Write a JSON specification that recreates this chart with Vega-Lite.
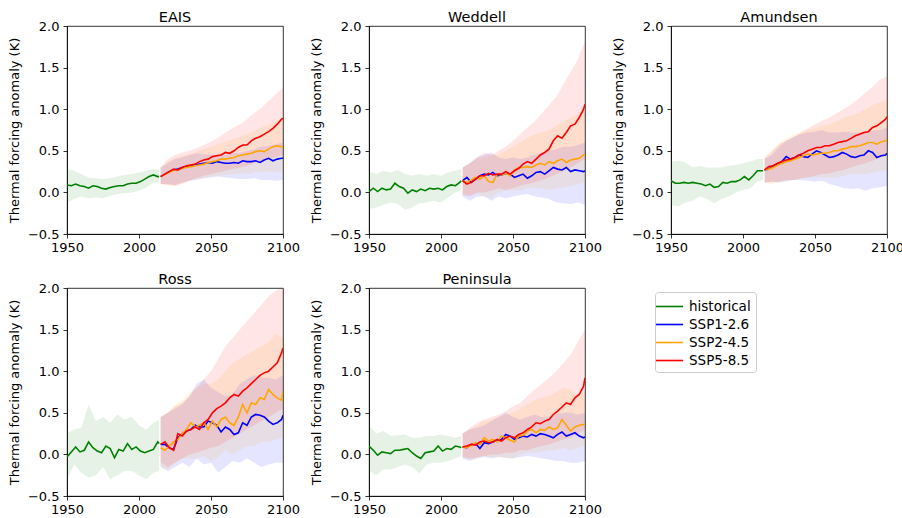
{
"$schema":"https://vega.github.io/schema/vega-lite/v6.json",
"padding":{"left":8,"top":9,"right":0,"bottom":0},
"config":{
 "font":"DejaVu Sans",
 "view":{"stroke":"black","strokeWidth":0.8},
 "axis":{"grid":false,"domainColor":"black","tickColor":"black","labelColor":"black","labelFontSize":13,"tickSize":4,"titleFontSize":13,"titleFontWeight":"normal","titleColor":"black","domainWidth":0.8,"tickWidth":0.8,"labelFlush":false,"labelOverlap":false,"labelFont":"DejaVu Sans","titleFont":"DejaVu Sans","titlePadding":6},
 "title":{"fontSize":14.5,"fontWeight":"normal","font":"DejaVu Sans","color":"black","offset":-5,"baseline":"alphabetic"},
 "legend":{"labelFontSize":13.5,"labelFont":"DejaVu Sans","labelColor":"black","symbolStrokeWidth":1.6,"strokeColor":"#cccccc","fillColor":"white","cornerRadius":3,"padding":5,"labelOffset":10,"rowPadding":2,"symbolType":"M-1.6,0H1.6","symbolSize":289}
},
"datasets":{
"EAIS_l":[
{"s":"historical","y":1950,"v":0.09},{"s":"historical","y":1953,"v":0.08},{"s":"historical","y":1956,"v":0.10},{"s":"historical","y":1959,"v":0.08},{"s":"historical","y":1962,"v":0.07},{"s":"historical","y":1965,"v":0.05},{"s":"historical","y":1968,"v":0.08},{"s":"historical","y":1971,"v":0.07},{"s":"historical","y":1974,"v":0.05},{"s":"historical","y":1977,"v":0.04},{"s":"historical","y":1980,"v":0.06},{"s":"historical","y":1983,"v":0.07},{"s":"historical","y":1986,"v":0.08},{"s":"historical","y":1989,"v":0.08},{"s":"historical","y":1992,"v":0.10},{"s":"historical","y":1995,"v":0.11},{"s":"historical","y":1998,"v":0.11},{"s":"historical","y":2001,"v":0.13},{"s":"historical","y":2004,"v":0.16},{"s":"historical","y":2007,"v":0.19},{"s":"historical","y":2010,"v":0.21},{"s":"historical","y":2013,"v":0.19},{"s":"historical","y":2014,"v":0.19},
{"s":"SSP1-2.6","y":2015,"v":0.19},{"s":"SSP1-2.6","y":2018,"v":0.22},{"s":"SSP1-2.6","y":2021,"v":0.25},{"s":"SSP1-2.6","y":2024,"v":0.27},{"s":"SSP1-2.6","y":2027,"v":0.28},{"s":"SSP1-2.6","y":2030,"v":0.30},{"s":"SSP1-2.6","y":2033,"v":0.31},{"s":"SSP1-2.6","y":2036,"v":0.32},{"s":"SSP1-2.6","y":2039,"v":0.33},{"s":"SSP1-2.6","y":2042,"v":0.34},{"s":"SSP1-2.6","y":2045,"v":0.35},{"s":"SSP1-2.6","y":2048,"v":0.36},{"s":"SSP1-2.6","y":2051,"v":0.35},{"s":"SSP1-2.6","y":2054,"v":0.37},{"s":"SSP1-2.6","y":2057,"v":0.36},{"s":"SSP1-2.6","y":2060,"v":0.35},{"s":"SSP1-2.6","y":2063,"v":0.35},{"s":"SSP1-2.6","y":2066,"v":0.36},{"s":"SSP1-2.6","y":2069,"v":0.35},{"s":"SSP1-2.6","y":2072,"v":0.38},{"s":"SSP1-2.6","y":2075,"v":0.37},{"s":"SSP1-2.6","y":2078,"v":0.37},{"s":"SSP1-2.6","y":2081,"v":0.38},{"s":"SSP1-2.6","y":2084,"v":0.36},{"s":"SSP1-2.6","y":2087,"v":0.39},{"s":"SSP1-2.6","y":2090,"v":0.41},{"s":"SSP1-2.6","y":2093,"v":0.38},{"s":"SSP1-2.6","y":2096,"v":0.40},{"s":"SSP1-2.6","y":2099,"v":0.41},{"s":"SSP1-2.6","y":2100,"v":0.41},
{"s":"SSP2-4.5","y":2015,"v":0.19},{"s":"SSP2-4.5","y":2018,"v":0.22},{"s":"SSP2-4.5","y":2021,"v":0.24},{"s":"SSP2-4.5","y":2024,"v":0.27},{"s":"SSP2-4.5","y":2027,"v":0.27},{"s":"SSP2-4.5","y":2030,"v":0.29},{"s":"SSP2-4.5","y":2033,"v":0.30},{"s":"SSP2-4.5","y":2036,"v":0.31},{"s":"SSP2-4.5","y":2039,"v":0.32},{"s":"SSP2-4.5","y":2042,"v":0.33},{"s":"SSP2-4.5","y":2045,"v":0.34},{"s":"SSP2-4.5","y":2048,"v":0.36},{"s":"SSP2-4.5","y":2051,"v":0.37},{"s":"SSP2-4.5","y":2054,"v":0.38},{"s":"SSP2-4.5","y":2057,"v":0.40},{"s":"SSP2-4.5","y":2060,"v":0.40},{"s":"SSP2-4.5","y":2063,"v":0.41},{"s":"SSP2-4.5","y":2066,"v":0.42},{"s":"SSP2-4.5","y":2069,"v":0.44},{"s":"SSP2-4.5","y":2072,"v":0.45},{"s":"SSP2-4.5","y":2075,"v":0.46},{"s":"SSP2-4.5","y":2078,"v":0.47},{"s":"SSP2-4.5","y":2081,"v":0.49},{"s":"SSP2-4.5","y":2084,"v":0.50},{"s":"SSP2-4.5","y":2087,"v":0.49},{"s":"SSP2-4.5","y":2090,"v":0.52},{"s":"SSP2-4.5","y":2093,"v":0.55},{"s":"SSP2-4.5","y":2096,"v":0.56},{"s":"SSP2-4.5","y":2099,"v":0.55},{"s":"SSP2-4.5","y":2100,"v":0.54},
{"s":"SSP5-8.5","y":2015,"v":0.19},{"s":"SSP5-8.5","y":2018,"v":0.22},{"s":"SSP5-8.5","y":2021,"v":0.25},{"s":"SSP5-8.5","y":2024,"v":0.28},{"s":"SSP5-8.5","y":2027,"v":0.27},{"s":"SSP5-8.5","y":2030,"v":0.30},{"s":"SSP5-8.5","y":2033,"v":0.32},{"s":"SSP5-8.5","y":2036,"v":0.33},{"s":"SSP5-8.5","y":2039,"v":0.34},{"s":"SSP5-8.5","y":2042,"v":0.37},{"s":"SSP5-8.5","y":2045,"v":0.39},{"s":"SSP5-8.5","y":2048,"v":0.40},{"s":"SSP5-8.5","y":2051,"v":0.43},{"s":"SSP5-8.5","y":2054,"v":0.44},{"s":"SSP5-8.5","y":2057,"v":0.45},{"s":"SSP5-8.5","y":2060,"v":0.48},{"s":"SSP5-8.5","y":2063,"v":0.47},{"s":"SSP5-8.5","y":2066,"v":0.50},{"s":"SSP5-8.5","y":2069,"v":0.54},{"s":"SSP5-8.5","y":2072,"v":0.57},{"s":"SSP5-8.5","y":2075,"v":0.57},{"s":"SSP5-8.5","y":2078,"v":0.62},{"s":"SSP5-8.5","y":2081,"v":0.65},{"s":"SSP5-8.5","y":2084,"v":0.67},{"s":"SSP5-8.5","y":2087,"v":0.70},{"s":"SSP5-8.5","y":2090,"v":0.73},{"s":"SSP5-8.5","y":2093,"v":0.77},{"s":"SSP5-8.5","y":2096,"v":0.82},{"s":"SSP5-8.5","y":2099,"v":0.88},{"s":"SSP5-8.5","y":2100,"v":0.89}
],
"EAIS_b":[
{"s":"historical","y":1950,"l":-0.12,"u":0.28},{"s":"historical","y":1955,"l":-0.08,"u":0.26},{"s":"historical","y":1960,"l":-0.05,"u":0.22},{"s":"historical","y":1965,"l":-0.07,"u":0.18},{"s":"historical","y":1970,"l":-0.06,"u":0.17},{"s":"historical","y":1975,"l":-0.07,"u":0.16},{"s":"historical","y":1980,"l":-0.04,"u":0.17},{"s":"historical","y":1985,"l":-0.02,"u":0.19},{"s":"historical","y":1990,"l":-0.01,"u":0.21},{"s":"historical","y":1995,"l":0.0,"u":0.22},{"s":"historical","y":2000,"l":0.02,"u":0.24},{"s":"historical","y":2005,"l":0.06,"u":0.26},{"s":"historical","y":2010,"l":0.12,"u":0.28},{"s":"historical","y":2014,"l":0.12,"u":0.27},
{"s":"SSP1-2.6","y":2015,"l":0.10,"u":0.30},{"s":"SSP1-2.6","y":2020,"l":0.10,"u":0.35},{"s":"SSP1-2.6","y":2025,"l":0.09,"u":0.40},{"s":"SSP1-2.6","y":2030,"l":0.12,"u":0.42},{"s":"SSP1-2.6","y":2035,"l":0.14,"u":0.45},{"s":"SSP1-2.6","y":2040,"l":0.15,"u":0.47},{"s":"SSP1-2.6","y":2045,"l":0.17,"u":0.46},{"s":"SSP1-2.6","y":2050,"l":0.18,"u":0.45},{"s":"SSP1-2.6","y":2055,"l":0.19,"u":0.46},{"s":"SSP1-2.6","y":2060,"l":0.18,"u":0.45},{"s":"SSP1-2.6","y":2065,"l":0.17,"u":0.47},{"s":"SSP1-2.6","y":2070,"l":0.16,"u":0.48},{"s":"SSP1-2.6","y":2075,"l":0.16,"u":0.50},{"s":"SSP1-2.6","y":2080,"l":0.17,"u":0.52},{"s":"SSP1-2.6","y":2085,"l":0.15,"u":0.55},{"s":"SSP1-2.6","y":2090,"l":0.15,"u":0.56},{"s":"SSP1-2.6","y":2095,"l":0.14,"u":0.58},{"s":"SSP1-2.6","y":2100,"l":0.15,"u":0.60},
{"s":"SSP2-4.5","y":2015,"l":0.10,"u":0.30},{"s":"SSP2-4.5","y":2020,"l":0.09,"u":0.37},{"s":"SSP2-4.5","y":2025,"l":0.08,"u":0.41},{"s":"SSP2-4.5","y":2030,"l":0.11,"u":0.44},{"s":"SSP2-4.5","y":2035,"l":0.14,"u":0.46},{"s":"SSP2-4.5","y":2040,"l":0.16,"u":0.49},{"s":"SSP2-4.5","y":2045,"l":0.17,"u":0.52},{"s":"SSP2-4.5","y":2050,"l":0.19,"u":0.55},{"s":"SSP2-4.5","y":2055,"l":0.20,"u":0.58},{"s":"SSP2-4.5","y":2060,"l":0.21,"u":0.61},{"s":"SSP2-4.5","y":2065,"l":0.22,"u":0.64},{"s":"SSP2-4.5","y":2070,"l":0.23,"u":0.67},{"s":"SSP2-4.5","y":2075,"l":0.22,"u":0.70},{"s":"SSP2-4.5","y":2080,"l":0.24,"u":0.74},{"s":"SSP2-4.5","y":2085,"l":0.25,"u":0.78},{"s":"SSP2-4.5","y":2090,"l":0.25,"u":0.82},{"s":"SSP2-4.5","y":2095,"l":0.24,"u":0.86},{"s":"SSP2-4.5","y":2100,"l":0.25,"u":0.90},
{"s":"SSP5-8.5","y":2015,"l":0.10,"u":0.30},{"s":"SSP5-8.5","y":2020,"l":0.09,"u":0.40},{"s":"SSP5-8.5","y":2025,"l":0.08,"u":0.45},{"s":"SSP5-8.5","y":2030,"l":0.10,"u":0.48},{"s":"SSP5-8.5","y":2035,"l":0.14,"u":0.50},{"s":"SSP5-8.5","y":2040,"l":0.17,"u":0.53},{"s":"SSP5-8.5","y":2045,"l":0.20,"u":0.57},{"s":"SSP5-8.5","y":2050,"l":0.22,"u":0.61},{"s":"SSP5-8.5","y":2055,"l":0.24,"u":0.66},{"s":"SSP5-8.5","y":2060,"l":0.26,"u":0.72},{"s":"SSP5-8.5","y":2065,"l":0.28,"u":0.77},{"s":"SSP5-8.5","y":2070,"l":0.30,"u":0.82},{"s":"SSP5-8.5","y":2075,"l":0.32,"u":0.88},{"s":"SSP5-8.5","y":2080,"l":0.35,"u":0.95},{"s":"SSP5-8.5","y":2085,"l":0.37,"u":1.02},{"s":"SSP5-8.5","y":2090,"l":0.40,"u":1.10},{"s":"SSP5-8.5","y":2095,"l":0.42,"u":1.18},{"s":"SSP5-8.5","y":2100,"l":0.45,"u":1.26}
],
"Weddell_l":[
{"s":"historical","y":1950,"v":0.01},{"s":"historical","y":1953,"v":0.05},{"s":"historical","y":1956,"v":0.01},{"s":"historical","y":1959,"v":0.05},{"s":"historical","y":1962,"v":0.03},{"s":"historical","y":1965,"v":0.04},{"s":"historical","y":1968,"v":0.11},{"s":"historical","y":1971,"v":0.07},{"s":"historical","y":1974,"v":0.05},{"s":"historical","y":1977,"v":-0.01},{"s":"historical","y":1980,"v":0.03},{"s":"historical","y":1983,"v":0.01},{"s":"historical","y":1986,"v":0.04},{"s":"historical","y":1989,"v":0.02},{"s":"historical","y":1992,"v":0.05},{"s":"historical","y":1995,"v":0.04},{"s":"historical","y":1998,"v":0.05},{"s":"historical","y":2001,"v":0.03},{"s":"historical","y":2004,"v":0.07},{"s":"historical","y":2007,"v":0.09},{"s":"historical","y":2010,"v":0.08},{"s":"historical","y":2013,"v":0.12},{"s":"historical","y":2014,"v":0.14},
{"s":"SSP1-2.6","y":2015,"v":0.14},{"s":"SSP1-2.6","y":2018,"v":0.18},{"s":"SSP1-2.6","y":2021,"v":0.12},{"s":"SSP1-2.6","y":2024,"v":0.16},{"s":"SSP1-2.6","y":2027,"v":0.20},{"s":"SSP1-2.6","y":2030,"v":0.22},{"s":"SSP1-2.6","y":2033,"v":0.21},{"s":"SSP1-2.6","y":2036,"v":0.24},{"s":"SSP1-2.6","y":2039,"v":0.20},{"s":"SSP1-2.6","y":2042,"v":0.21},{"s":"SSP1-2.6","y":2045,"v":0.23},{"s":"SSP1-2.6","y":2048,"v":0.22},{"s":"SSP1-2.6","y":2051,"v":0.18},{"s":"SSP1-2.6","y":2054,"v":0.20},{"s":"SSP1-2.6","y":2057,"v":0.22},{"s":"SSP1-2.6","y":2060,"v":0.17},{"s":"SSP1-2.6","y":2063,"v":0.20},{"s":"SSP1-2.6","y":2066,"v":0.24},{"s":"SSP1-2.6","y":2069,"v":0.25},{"s":"SSP1-2.6","y":2072,"v":0.22},{"s":"SSP1-2.6","y":2075,"v":0.26},{"s":"SSP1-2.6","y":2078,"v":0.30},{"s":"SSP1-2.6","y":2081,"v":0.28},{"s":"SSP1-2.6","y":2084,"v":0.27},{"s":"SSP1-2.6","y":2087,"v":0.30},{"s":"SSP1-2.6","y":2090,"v":0.25},{"s":"SSP1-2.6","y":2093,"v":0.27},{"s":"SSP1-2.6","y":2096,"v":0.26},{"s":"SSP1-2.6","y":2099,"v":0.25},{"s":"SSP1-2.6","y":2100,"v":0.26},
{"s":"SSP2-4.5","y":2015,"v":0.14},{"s":"SSP2-4.5","y":2018,"v":0.12},{"s":"SSP2-4.5","y":2021,"v":0.15},{"s":"SSP2-4.5","y":2024,"v":0.18},{"s":"SSP2-4.5","y":2027,"v":0.16},{"s":"SSP2-4.5","y":2030,"v":0.20},{"s":"SSP2-4.5","y":2033,"v":0.13},{"s":"SSP2-4.5","y":2036,"v":0.12},{"s":"SSP2-4.5","y":2039,"v":0.22},{"s":"SSP2-4.5","y":2042,"v":0.21},{"s":"SSP2-4.5","y":2045,"v":0.23},{"s":"SSP2-4.5","y":2048,"v":0.20},{"s":"SSP2-4.5","y":2051,"v":0.27},{"s":"SSP2-4.5","y":2054,"v":0.30},{"s":"SSP2-4.5","y":2057,"v":0.30},{"s":"SSP2-4.5","y":2060,"v":0.31},{"s":"SSP2-4.5","y":2063,"v":0.30},{"s":"SSP2-4.5","y":2066,"v":0.33},{"s":"SSP2-4.5","y":2069,"v":0.35},{"s":"SSP2-4.5","y":2072,"v":0.33},{"s":"SSP2-4.5","y":2075,"v":0.37},{"s":"SSP2-4.5","y":2078,"v":0.35},{"s":"SSP2-4.5","y":2081,"v":0.38},{"s":"SSP2-4.5","y":2084,"v":0.40},{"s":"SSP2-4.5","y":2087,"v":0.36},{"s":"SSP2-4.5","y":2090,"v":0.39},{"s":"SSP2-4.5","y":2093,"v":0.40},{"s":"SSP2-4.5","y":2096,"v":0.41},{"s":"SSP2-4.5","y":2099,"v":0.45},{"s":"SSP2-4.5","y":2100,"v":0.46},
{"s":"SSP5-8.5","y":2015,"v":0.14},{"s":"SSP5-8.5","y":2018,"v":0.10},{"s":"SSP5-8.5","y":2021,"v":0.12},{"s":"SSP5-8.5","y":2024,"v":0.16},{"s":"SSP5-8.5","y":2027,"v":0.20},{"s":"SSP5-8.5","y":2030,"v":0.20},{"s":"SSP5-8.5","y":2033,"v":0.23},{"s":"SSP5-8.5","y":2036,"v":0.21},{"s":"SSP5-8.5","y":2039,"v":0.22},{"s":"SSP5-8.5","y":2042,"v":0.22},{"s":"SSP5-8.5","y":2045,"v":0.25},{"s":"SSP5-8.5","y":2048,"v":0.22},{"s":"SSP5-8.5","y":2051,"v":0.26},{"s":"SSP5-8.5","y":2054,"v":0.29},{"s":"SSP5-8.5","y":2057,"v":0.34},{"s":"SSP5-8.5","y":2060,"v":0.37},{"s":"SSP5-8.5","y":2063,"v":0.35},{"s":"SSP5-8.5","y":2066,"v":0.40},{"s":"SSP5-8.5","y":2069,"v":0.45},{"s":"SSP5-8.5","y":2072,"v":0.48},{"s":"SSP5-8.5","y":2075,"v":0.52},{"s":"SSP5-8.5","y":2078,"v":0.62},{"s":"SSP5-8.5","y":2081,"v":0.68},{"s":"SSP5-8.5","y":2084,"v":0.65},{"s":"SSP5-8.5","y":2087,"v":0.72},{"s":"SSP5-8.5","y":2090,"v":0.80},{"s":"SSP5-8.5","y":2093,"v":0.82},{"s":"SSP5-8.5","y":2096,"v":0.90},{"s":"SSP5-8.5","y":2099,"v":1.00},{"s":"SSP5-8.5","y":2100,"v":1.06}
],
"Weddell_b":[
{"s":"historical","y":1950,"l":-0.20,"u":0.25},{"s":"historical","y":1955,"l":-0.18,"u":0.22},{"s":"historical","y":1960,"l":-0.15,"u":0.26},{"s":"historical","y":1965,"l":-0.12,"u":0.24},{"s":"historical","y":1970,"l":-0.14,"u":0.27},{"s":"historical","y":1975,"l":-0.21,"u":0.22},{"s":"historical","y":1980,"l":-0.18,"u":0.20},{"s":"historical","y":1985,"l":-0.13,"u":0.22},{"s":"historical","y":1990,"l":-0.12,"u":0.20},{"s":"historical","y":1995,"l":-0.10,"u":0.22},{"s":"historical","y":2000,"l":-0.12,"u":0.20},{"s":"historical","y":2005,"l":-0.06,"u":0.24},{"s":"historical","y":2010,"l":0.0,"u":0.26},{"s":"historical","y":2014,"l":0.02,"u":0.28},
{"s":"SSP1-2.6","y":2015,"l":-0.05,"u":0.30},{"s":"SSP1-2.6","y":2020,"l":-0.10,"u":0.35},{"s":"SSP1-2.6","y":2025,"l":-0.05,"u":0.42},{"s":"SSP1-2.6","y":2030,"l":-0.05,"u":0.45},{"s":"SSP1-2.6","y":2035,"l":-0.10,"u":0.48},{"s":"SSP1-2.6","y":2040,"l":-0.05,"u":0.42},{"s":"SSP1-2.6","y":2045,"l":-0.07,"u":0.40},{"s":"SSP1-2.6","y":2050,"l":-0.05,"u":0.42},{"s":"SSP1-2.6","y":2055,"l":-0.03,"u":0.40},{"s":"SSP1-2.6","y":2060,"l":-0.02,"u":0.42},{"s":"SSP1-2.6","y":2065,"l":-0.05,"u":0.45},{"s":"SSP1-2.6","y":2070,"l":-0.06,"u":0.48},{"s":"SSP1-2.6","y":2075,"l":-0.08,"u":0.50},{"s":"SSP1-2.6","y":2080,"l":-0.12,"u":0.52},{"s":"SSP1-2.6","y":2085,"l":-0.13,"u":0.55},{"s":"SSP1-2.6","y":2090,"l":-0.14,"u":0.55},{"s":"SSP1-2.6","y":2095,"l":-0.12,"u":0.57},{"s":"SSP1-2.6","y":2100,"l":-0.15,"u":0.60},
{"s":"SSP2-4.5","y":2015,"l":-0.02,"u":0.30},{"s":"SSP2-4.5","y":2020,"l":-0.03,"u":0.35},{"s":"SSP2-4.5","y":2025,"l":-0.02,"u":0.40},{"s":"SSP2-4.5","y":2030,"l":-0.05,"u":0.42},{"s":"SSP2-4.5","y":2035,"l":-0.06,"u":0.45},{"s":"SSP2-4.5","y":2040,"l":0.0,"u":0.45},{"s":"SSP2-4.5","y":2045,"l":0.02,"u":0.50},{"s":"SSP2-4.5","y":2050,"l":0.03,"u":0.55},{"s":"SSP2-4.5","y":2055,"l":0.02,"u":0.60},{"s":"SSP2-4.5","y":2060,"l":0.05,"u":0.65},{"s":"SSP2-4.5","y":2065,"l":0.05,"u":0.70},{"s":"SSP2-4.5","y":2070,"l":0.05,"u":0.72},{"s":"SSP2-4.5","y":2075,"l":0.03,"u":0.75},{"s":"SSP2-4.5","y":2080,"l":0.05,"u":0.80},{"s":"SSP2-4.5","y":2085,"l":0.06,"u":0.85},{"s":"SSP2-4.5","y":2090,"l":0.08,"u":0.90},{"s":"SSP2-4.5","y":2095,"l":0.10,"u":0.95},{"s":"SSP2-4.5","y":2100,"l":0.12,"u":1.00},
{"s":"SSP5-8.5","y":2015,"l":-0.03,"u":0.30},{"s":"SSP5-8.5","y":2020,"l":-0.05,"u":0.35},{"s":"SSP5-8.5","y":2025,"l":0.0,"u":0.42},{"s":"SSP5-8.5","y":2030,"l":0.0,"u":0.48},{"s":"SSP5-8.5","y":2035,"l":0.02,"u":0.45},{"s":"SSP5-8.5","y":2040,"l":0.05,"u":0.50},{"s":"SSP5-8.5","y":2045,"l":0.03,"u":0.55},{"s":"SSP5-8.5","y":2050,"l":0.05,"u":0.62},{"s":"SSP5-8.5","y":2055,"l":0.08,"u":0.70},{"s":"SSP5-8.5","y":2060,"l":0.10,"u":0.78},{"s":"SSP5-8.5","y":2065,"l":0.12,"u":0.85},{"s":"SSP5-8.5","y":2070,"l":0.15,"u":0.95},{"s":"SSP5-8.5","y":2075,"l":0.18,"u":1.05},{"s":"SSP5-8.5","y":2080,"l":0.22,"u":1.15},{"s":"SSP5-8.5","y":2085,"l":0.25,"u":1.30},{"s":"SSP5-8.5","y":2090,"l":0.30,"u":1.45},{"s":"SSP5-8.5","y":2095,"l":0.35,"u":1.60},{"s":"SSP5-8.5","y":2100,"l":0.40,"u":1.82}
],
"Amundsen_l":[
{"s":"historical","y":1950,"v":0.14},{"s":"historical","y":1953,"v":0.11},{"s":"historical","y":1956,"v":0.11},{"s":"historical","y":1959,"v":0.12},{"s":"historical","y":1962,"v":0.11},{"s":"historical","y":1965,"v":0.12},{"s":"historical","y":1968,"v":0.11},{"s":"historical","y":1971,"v":0.10},{"s":"historical","y":1974,"v":0.08},{"s":"historical","y":1977,"v":0.10},{"s":"historical","y":1980,"v":0.06},{"s":"historical","y":1983,"v":0.07},{"s":"historical","y":1986,"v":0.12},{"s":"historical","y":1989,"v":0.11},{"s":"historical","y":1992,"v":0.13},{"s":"historical","y":1995,"v":0.13},{"s":"historical","y":1998,"v":0.15},{"s":"historical","y":2001,"v":0.19},{"s":"historical","y":2004,"v":0.15},{"s":"historical","y":2007,"v":0.20},{"s":"historical","y":2010,"v":0.26},{"s":"historical","y":2013,"v":0.26},{"s":"historical","y":2014,"v":0.26},
{"s":"SSP1-2.6","y":2015,"v":0.27},{"s":"SSP1-2.6","y":2018,"v":0.28},{"s":"SSP1-2.6","y":2021,"v":0.32},{"s":"SSP1-2.6","y":2024,"v":0.34},{"s":"SSP1-2.6","y":2027,"v":0.37},{"s":"SSP1-2.6","y":2030,"v":0.43},{"s":"SSP1-2.6","y":2033,"v":0.40},{"s":"SSP1-2.6","y":2036,"v":0.42},{"s":"SSP1-2.6","y":2039,"v":0.45},{"s":"SSP1-2.6","y":2042,"v":0.43},{"s":"SSP1-2.6","y":2045,"v":0.42},{"s":"SSP1-2.6","y":2048,"v":0.46},{"s":"SSP1-2.6","y":2051,"v":0.50},{"s":"SSP1-2.6","y":2054,"v":0.48},{"s":"SSP1-2.6","y":2057,"v":0.45},{"s":"SSP1-2.6","y":2060,"v":0.42},{"s":"SSP1-2.6","y":2063,"v":0.43},{"s":"SSP1-2.6","y":2066,"v":0.45},{"s":"SSP1-2.6","y":2069,"v":0.48},{"s":"SSP1-2.6","y":2072,"v":0.46},{"s":"SSP1-2.6","y":2075,"v":0.43},{"s":"SSP1-2.6","y":2078,"v":0.42},{"s":"SSP1-2.6","y":2081,"v":0.44},{"s":"SSP1-2.6","y":2084,"v":0.45},{"s":"SSP1-2.6","y":2087,"v":0.50},{"s":"SSP1-2.6","y":2090,"v":0.48},{"s":"SSP1-2.6","y":2093,"v":0.42},{"s":"SSP1-2.6","y":2096,"v":0.44},{"s":"SSP1-2.6","y":2099,"v":0.45},{"s":"SSP1-2.6","y":2100,"v":0.47},
{"s":"SSP2-4.5","y":2015,"v":0.27},{"s":"SSP2-4.5","y":2018,"v":0.28},{"s":"SSP2-4.5","y":2021,"v":0.30},{"s":"SSP2-4.5","y":2024,"v":0.33},{"s":"SSP2-4.5","y":2027,"v":0.35},{"s":"SSP2-4.5","y":2030,"v":0.37},{"s":"SSP2-4.5","y":2033,"v":0.38},{"s":"SSP2-4.5","y":2036,"v":0.40},{"s":"SSP2-4.5","y":2039,"v":0.42},{"s":"SSP2-4.5","y":2042,"v":0.44},{"s":"SSP2-4.5","y":2045,"v":0.46},{"s":"SSP2-4.5","y":2048,"v":0.45},{"s":"SSP2-4.5","y":2051,"v":0.46},{"s":"SSP2-4.5","y":2054,"v":0.47},{"s":"SSP2-4.5","y":2057,"v":0.47},{"s":"SSP2-4.5","y":2060,"v":0.48},{"s":"SSP2-4.5","y":2063,"v":0.50},{"s":"SSP2-4.5","y":2066,"v":0.50},{"s":"SSP2-4.5","y":2069,"v":0.52},{"s":"SSP2-4.5","y":2072,"v":0.53},{"s":"SSP2-4.5","y":2075,"v":0.55},{"s":"SSP2-4.5","y":2078,"v":0.55},{"s":"SSP2-4.5","y":2081,"v":0.56},{"s":"SSP2-4.5","y":2084,"v":0.58},{"s":"SSP2-4.5","y":2087,"v":0.60},{"s":"SSP2-4.5","y":2090,"v":0.60},{"s":"SSP2-4.5","y":2093,"v":0.58},{"s":"SSP2-4.5","y":2096,"v":0.61},{"s":"SSP2-4.5","y":2099,"v":0.62},{"s":"SSP2-4.5","y":2100,"v":0.63},
{"s":"SSP5-8.5","y":2015,"v":0.27},{"s":"SSP5-8.5","y":2018,"v":0.31},{"s":"SSP5-8.5","y":2021,"v":0.32},{"s":"SSP5-8.5","y":2024,"v":0.35},{"s":"SSP5-8.5","y":2027,"v":0.37},{"s":"SSP5-8.5","y":2030,"v":0.39},{"s":"SSP5-8.5","y":2033,"v":0.40},{"s":"SSP5-8.5","y":2036,"v":0.42},{"s":"SSP5-8.5","y":2039,"v":0.45},{"s":"SSP5-8.5","y":2042,"v":0.47},{"s":"SSP5-8.5","y":2045,"v":0.50},{"s":"SSP5-8.5","y":2048,"v":0.52},{"s":"SSP5-8.5","y":2051,"v":0.54},{"s":"SSP5-8.5","y":2054,"v":0.54},{"s":"SSP5-8.5","y":2057,"v":0.56},{"s":"SSP5-8.5","y":2060,"v":0.56},{"s":"SSP5-8.5","y":2063,"v":0.58},{"s":"SSP5-8.5","y":2066,"v":0.60},{"s":"SSP5-8.5","y":2069,"v":0.61},{"s":"SSP5-8.5","y":2072,"v":0.62},{"s":"SSP5-8.5","y":2075,"v":0.65},{"s":"SSP5-8.5","y":2078,"v":0.68},{"s":"SSP5-8.5","y":2081,"v":0.70},{"s":"SSP5-8.5","y":2084,"v":0.72},{"s":"SSP5-8.5","y":2087,"v":0.73},{"s":"SSP5-8.5","y":2090,"v":0.78},{"s":"SSP5-8.5","y":2093,"v":0.80},{"s":"SSP5-8.5","y":2096,"v":0.84},{"s":"SSP5-8.5","y":2099,"v":0.88},{"s":"SSP5-8.5","y":2100,"v":0.91}
],
"Amundsen_b":[
{"s":"historical","y":1950,"l":-0.15,"u":0.37},{"s":"historical","y":1955,"l":-0.17,"u":0.38},{"s":"historical","y":1960,"l":-0.12,"u":0.36},{"s":"historical","y":1965,"l":-0.10,"u":0.30},{"s":"historical","y":1970,"l":-0.05,"u":0.32},{"s":"historical","y":1975,"l":-0.08,"u":0.30},{"s":"historical","y":1980,"l":-0.13,"u":0.30},{"s":"historical","y":1985,"l":-0.08,"u":0.30},{"s":"historical","y":1990,"l":-0.05,"u":0.32},{"s":"historical","y":1995,"l":0.0,"u":0.33},{"s":"historical","y":2000,"l":0.03,"u":0.35},{"s":"historical","y":2005,"l":0.05,"u":0.37},{"s":"historical","y":2010,"l":0.13,"u":0.40},{"s":"historical","y":2014,"l":0.15,"u":0.40},
{"s":"SSP1-2.6","y":2015,"l":0.12,"u":0.40},{"s":"SSP1-2.6","y":2020,"l":0.13,"u":0.45},{"s":"SSP1-2.6","y":2025,"l":0.12,"u":0.55},{"s":"SSP1-2.6","y":2030,"l":0.13,"u":0.62},{"s":"SSP1-2.6","y":2035,"l":0.15,"u":0.67},{"s":"SSP1-2.6","y":2040,"l":0.15,"u":0.70},{"s":"SSP1-2.6","y":2045,"l":0.14,"u":0.72},{"s":"SSP1-2.6","y":2050,"l":0.13,"u":0.73},{"s":"SSP1-2.6","y":2055,"l":0.14,"u":0.75},{"s":"SSP1-2.6","y":2060,"l":0.10,"u":0.72},{"s":"SSP1-2.6","y":2065,"l":0.08,"u":0.72},{"s":"SSP1-2.6","y":2070,"l":0.05,"u":0.73},{"s":"SSP1-2.6","y":2075,"l":0.04,"u":0.72},{"s":"SSP1-2.6","y":2080,"l":0.05,"u":0.72},{"s":"SSP1-2.6","y":2085,"l":0.02,"u":0.73},{"s":"SSP1-2.6","y":2090,"l":0.05,"u":0.74},{"s":"SSP1-2.6","y":2095,"l":0.06,"u":0.75},{"s":"SSP1-2.6","y":2100,"l":0.08,"u":0.78},
{"s":"SSP2-4.5","y":2015,"l":0.12,"u":0.40},{"s":"SSP2-4.5","y":2020,"l":0.10,"u":0.48},{"s":"SSP2-4.5","y":2025,"l":0.12,"u":0.60},{"s":"SSP2-4.5","y":2030,"l":0.14,"u":0.65},{"s":"SSP2-4.5","y":2035,"l":0.15,"u":0.70},{"s":"SSP2-4.5","y":2040,"l":0.16,"u":0.72},{"s":"SSP2-4.5","y":2045,"l":0.18,"u":0.75},{"s":"SSP2-4.5","y":2050,"l":0.18,"u":0.77},{"s":"SSP2-4.5","y":2055,"l":0.18,"u":0.80},{"s":"SSP2-4.5","y":2060,"l":0.18,"u":0.82},{"s":"SSP2-4.5","y":2065,"l":0.18,"u":0.85},{"s":"SSP2-4.5","y":2070,"l":0.20,"u":0.90},{"s":"SSP2-4.5","y":2075,"l":0.22,"u":0.92},{"s":"SSP2-4.5","y":2080,"l":0.22,"u":0.95},{"s":"SSP2-4.5","y":2085,"l":0.22,"u":1.00},{"s":"SSP2-4.5","y":2090,"l":0.24,"u":1.05},{"s":"SSP2-4.5","y":2095,"l":0.25,"u":1.08},{"s":"SSP2-4.5","y":2100,"l":0.27,"u":1.12},
{"s":"SSP5-8.5","y":2015,"l":0.12,"u":0.42},{"s":"SSP5-8.5","y":2020,"l":0.12,"u":0.50},{"s":"SSP5-8.5","y":2025,"l":0.13,"u":0.58},{"s":"SSP5-8.5","y":2030,"l":0.15,"u":0.62},{"s":"SSP5-8.5","y":2035,"l":0.15,"u":0.66},{"s":"SSP5-8.5","y":2040,"l":0.17,"u":0.72},{"s":"SSP5-8.5","y":2045,"l":0.18,"u":0.77},{"s":"SSP5-8.5","y":2050,"l":0.20,"u":0.82},{"s":"SSP5-8.5","y":2055,"l":0.22,"u":0.86},{"s":"SSP5-8.5","y":2060,"l":0.23,"u":0.90},{"s":"SSP5-8.5","y":2065,"l":0.25,"u":0.95},{"s":"SSP5-8.5","y":2070,"l":0.27,"u":1.00},{"s":"SSP5-8.5","y":2075,"l":0.30,"u":1.06},{"s":"SSP5-8.5","y":2080,"l":0.33,"u":1.12},{"s":"SSP5-8.5","y":2085,"l":0.35,"u":1.20},{"s":"SSP5-8.5","y":2090,"l":0.38,"u":1.27},{"s":"SSP5-8.5","y":2095,"l":0.42,"u":1.35},{"s":"SSP5-8.5","y":2100,"l":0.45,"u":1.40}
],
"Ross_l":[
{"s":"historical","y":1950,"v":-0.03},{"s":"historical","y":1953,"v":0.03},{"s":"historical","y":1956,"v":0.09},{"s":"historical","y":1959,"v":0.03},{"s":"historical","y":1962,"v":0.05},{"s":"historical","y":1965,"v":0.15},{"s":"historical","y":1968,"v":0.08},{"s":"historical","y":1971,"v":0.04},{"s":"historical","y":1974,"v":0.02},{"s":"historical","y":1977,"v":0.10},{"s":"historical","y":1980,"v":0.07},{"s":"historical","y":1983,"v":-0.04},{"s":"historical","y":1986,"v":0.06},{"s":"historical","y":1989,"v":0.04},{"s":"historical","y":1992,"v":0.13},{"s":"historical","y":1995,"v":0.06},{"s":"historical","y":1998,"v":0.09},{"s":"historical","y":2001,"v":0.04},{"s":"historical","y":2004,"v":0.02},{"s":"historical","y":2007,"v":0.04},{"s":"historical","y":2010,"v":0.06},{"s":"historical","y":2013,"v":0.15},{"s":"historical","y":2014,"v":0.13},
{"s":"SSP1-2.6","y":2015,"v":0.12},{"s":"SSP1-2.6","y":2018,"v":0.12},{"s":"SSP1-2.6","y":2021,"v":0.08},{"s":"SSP1-2.6","y":2024,"v":0.06},{"s":"SSP1-2.6","y":2027,"v":0.20},{"s":"SSP1-2.6","y":2030,"v":0.25},{"s":"SSP1-2.6","y":2033,"v":0.28},{"s":"SSP1-2.6","y":2036,"v":0.30},{"s":"SSP1-2.6","y":2039,"v":0.35},{"s":"SSP1-2.6","y":2042,"v":0.33},{"s":"SSP1-2.6","y":2045,"v":0.33},{"s":"SSP1-2.6","y":2048,"v":0.40},{"s":"SSP1-2.6","y":2051,"v":0.38},{"s":"SSP1-2.6","y":2054,"v":0.35},{"s":"SSP1-2.6","y":2057,"v":0.27},{"s":"SSP1-2.6","y":2060,"v":0.33},{"s":"SSP1-2.6","y":2063,"v":0.30},{"s":"SSP1-2.6","y":2066,"v":0.24},{"s":"SSP1-2.6","y":2069,"v":0.26},{"s":"SSP1-2.6","y":2072,"v":0.38},{"s":"SSP1-2.6","y":2075,"v":0.35},{"s":"SSP1-2.6","y":2078,"v":0.45},{"s":"SSP1-2.6","y":2081,"v":0.48},{"s":"SSP1-2.6","y":2084,"v":0.47},{"s":"SSP1-2.6","y":2087,"v":0.45},{"s":"SSP1-2.6","y":2090,"v":0.40},{"s":"SSP1-2.6","y":2093,"v":0.36},{"s":"SSP1-2.6","y":2096,"v":0.38},{"s":"SSP1-2.6","y":2099,"v":0.42},{"s":"SSP1-2.6","y":2100,"v":0.47},
{"s":"SSP2-4.5","y":2015,"v":0.08},{"s":"SSP2-4.5","y":2018,"v":0.05},{"s":"SSP2-4.5","y":2021,"v":0.10},{"s":"SSP2-4.5","y":2024,"v":0.15},{"s":"SSP2-4.5","y":2027,"v":0.18},{"s":"SSP2-4.5","y":2030,"v":0.25},{"s":"SSP2-4.5","y":2033,"v":0.30},{"s":"SSP2-4.5","y":2036,"v":0.38},{"s":"SSP2-4.5","y":2039,"v":0.33},{"s":"SSP2-4.5","y":2042,"v":0.35},{"s":"SSP2-4.5","y":2045,"v":0.38},{"s":"SSP2-4.5","y":2048,"v":0.30},{"s":"SSP2-4.5","y":2051,"v":0.40},{"s":"SSP2-4.5","y":2054,"v":0.33},{"s":"SSP2-4.5","y":2057,"v":0.42},{"s":"SSP2-4.5","y":2060,"v":0.45},{"s":"SSP2-4.5","y":2063,"v":0.38},{"s":"SSP2-4.5","y":2066,"v":0.35},{"s":"SSP2-4.5","y":2069,"v":0.45},{"s":"SSP2-4.5","y":2072,"v":0.60},{"s":"SSP2-4.5","y":2075,"v":0.50},{"s":"SSP2-4.5","y":2078,"v":0.62},{"s":"SSP2-4.5","y":2081,"v":0.60},{"s":"SSP2-4.5","y":2084,"v":0.68},{"s":"SSP2-4.5","y":2087,"v":0.66},{"s":"SSP2-4.5","y":2090,"v":0.78},{"s":"SSP2-4.5","y":2093,"v":0.72},{"s":"SSP2-4.5","y":2096,"v":0.68},{"s":"SSP2-4.5","y":2099,"v":0.65},{"s":"SSP2-4.5","y":2100,"v":0.76},
{"s":"SSP5-8.5","y":2015,"v":0.12},{"s":"SSP5-8.5","y":2018,"v":0.15},{"s":"SSP5-8.5","y":2021,"v":0.08},{"s":"SSP5-8.5","y":2024,"v":0.05},{"s":"SSP5-8.5","y":2027,"v":0.25},{"s":"SSP5-8.5","y":2030,"v":0.22},{"s":"SSP5-8.5","y":2033,"v":0.28},{"s":"SSP5-8.5","y":2036,"v":0.30},{"s":"SSP5-8.5","y":2039,"v":0.33},{"s":"SSP5-8.5","y":2042,"v":0.30},{"s":"SSP5-8.5","y":2045,"v":0.38},{"s":"SSP5-8.5","y":2048,"v":0.42},{"s":"SSP5-8.5","y":2051,"v":0.50},{"s":"SSP5-8.5","y":2054,"v":0.55},{"s":"SSP5-8.5","y":2057,"v":0.58},{"s":"SSP5-8.5","y":2060,"v":0.62},{"s":"SSP5-8.5","y":2063,"v":0.68},{"s":"SSP5-8.5","y":2066,"v":0.72},{"s":"SSP5-8.5","y":2069,"v":0.70},{"s":"SSP5-8.5","y":2072,"v":0.76},{"s":"SSP5-8.5","y":2075,"v":0.80},{"s":"SSP5-8.5","y":2078,"v":0.85},{"s":"SSP5-8.5","y":2081,"v":0.90},{"s":"SSP5-8.5","y":2084,"v":0.95},{"s":"SSP5-8.5","y":2087,"v":0.98},{"s":"SSP5-8.5","y":2090,"v":1.00},{"s":"SSP5-8.5","y":2093,"v":1.05},{"s":"SSP5-8.5","y":2096,"v":1.10},{"s":"SSP5-8.5","y":2099,"v":1.22},{"s":"SSP5-8.5","y":2100,"v":1.28}
],
"Ross_b":[
{"s":"historical","y":1950,"l":-0.30,"u":0.25},{"s":"historical","y":1955,"l":-0.12,"u":0.30},{"s":"historical","y":1960,"l":-0.22,"u":0.32},{"s":"historical","y":1965,"l":-0.28,"u":0.60},{"s":"historical","y":1970,"l":-0.25,"u":0.40},{"s":"historical","y":1975,"l":-0.15,"u":0.45},{"s":"historical","y":1980,"l":-0.30,"u":0.38},{"s":"historical","y":1985,"l":-0.25,"u":0.48},{"s":"historical","y":1990,"l":-0.20,"u":0.42},{"s":"historical","y":1995,"l":-0.20,"u":0.45},{"s":"historical","y":2000,"l":-0.25,"u":0.35},{"s":"historical","y":2005,"l":-0.30,"u":0.30},{"s":"historical","y":2010,"l":-0.22,"u":0.38},{"s":"historical","y":2014,"l":-0.20,"u":0.42},
{"s":"SSP1-2.6","y":2015,"l":-0.15,"u":0.45},{"s":"SSP1-2.6","y":2020,"l":-0.20,"u":0.50},{"s":"SSP1-2.6","y":2025,"l":-0.15,"u":0.55},{"s":"SSP1-2.6","y":2030,"l":-0.10,"u":0.60},{"s":"SSP1-2.6","y":2035,"l":-0.15,"u":0.70},{"s":"SSP1-2.6","y":2040,"l":-0.05,"u":0.85},{"s":"SSP1-2.6","y":2045,"l":-0.12,"u":0.90},{"s":"SSP1-2.6","y":2050,"l":-0.10,"u":0.80},{"s":"SSP1-2.6","y":2055,"l":-0.22,"u":0.75},{"s":"SSP1-2.6","y":2060,"l":-0.15,"u":0.70},{"s":"SSP1-2.6","y":2065,"l":-0.08,"u":0.72},{"s":"SSP1-2.6","y":2070,"l":-0.10,"u":0.85},{"s":"SSP1-2.6","y":2075,"l":-0.05,"u":0.90},{"s":"SSP1-2.6","y":2080,"l":-0.10,"u":0.95},{"s":"SSP1-2.6","y":2085,"l":-0.15,"u":0.92},{"s":"SSP1-2.6","y":2090,"l":-0.12,"u":0.92},{"s":"SSP1-2.6","y":2095,"l":-0.10,"u":0.90},{"s":"SSP1-2.6","y":2100,"l":-0.10,"u":0.95},
{"s":"SSP2-4.5","y":2015,"l":-0.15,"u":0.45},{"s":"SSP2-4.5","y":2020,"l":-0.18,"u":0.50},{"s":"SSP2-4.5","y":2025,"l":-0.10,"u":0.60},{"s":"SSP2-4.5","y":2030,"l":-0.05,"u":0.65},{"s":"SSP2-4.5","y":2035,"l":-0.05,"u":0.75},{"s":"SSP2-4.5","y":2040,"l":-0.05,"u":0.80},{"s":"SSP2-4.5","y":2045,"l":-0.02,"u":0.85},{"s":"SSP2-4.5","y":2050,"l":-0.08,"u":0.85},{"s":"SSP2-4.5","y":2055,"l":-0.03,"u":0.90},{"s":"SSP2-4.5","y":2060,"l":0.05,"u":1.00},{"s":"SSP2-4.5","y":2065,"l":0.0,"u":1.10},{"s":"SSP2-4.5","y":2070,"l":0.05,"u":1.15},{"s":"SSP2-4.5","y":2075,"l":0.10,"u":1.20},{"s":"SSP2-4.5","y":2080,"l":0.10,"u":1.25},{"s":"SSP2-4.5","y":2085,"l":0.15,"u":1.30},{"s":"SSP2-4.5","y":2090,"l":0.15,"u":1.35},{"s":"SSP2-4.5","y":2095,"l":0.18,"u":1.45},{"s":"SSP2-4.5","y":2100,"l":0.20,"u":1.40},
{"s":"SSP5-8.5","y":2015,"l":-0.10,"u":0.45},{"s":"SSP5-8.5","y":2020,"l":-0.15,"u":0.50},{"s":"SSP5-8.5","y":2025,"l":-0.10,"u":0.58},{"s":"SSP5-8.5","y":2030,"l":-0.05,"u":0.62},{"s":"SSP5-8.5","y":2035,"l":0.0,"u":0.70},{"s":"SSP5-8.5","y":2040,"l":0.02,"u":0.80},{"s":"SSP5-8.5","y":2045,"l":0.05,"u":0.90},{"s":"SSP5-8.5","y":2050,"l":0.08,"u":1.00},{"s":"SSP5-8.5","y":2055,"l":0.10,"u":1.15},{"s":"SSP5-8.5","y":2060,"l":0.15,"u":1.30},{"s":"SSP5-8.5","y":2065,"l":0.20,"u":1.40},{"s":"SSP5-8.5","y":2070,"l":0.25,"u":1.50},{"s":"SSP5-8.5","y":2075,"l":0.30,"u":1.60},{"s":"SSP5-8.5","y":2080,"l":0.35,"u":1.70},{"s":"SSP5-8.5","y":2085,"l":0.40,"u":1.80},{"s":"SSP5-8.5","y":2090,"l":0.45,"u":1.90},{"s":"SSP5-8.5","y":2095,"l":0.50,"u":1.97},{"s":"SSP5-8.5","y":2100,"l":0.55,"u":2.00}
],
"Peninsula_l":[
{"s":"historical","y":1950,"v":0.10},{"s":"historical","y":1953,"v":0.05},{"s":"historical","y":1956,"v":-0.01},{"s":"historical","y":1959,"v":0.03},{"s":"historical","y":1962,"v":0.02},{"s":"historical","y":1965,"v":0.01},{"s":"historical","y":1968,"v":0.05},{"s":"historical","y":1971,"v":0.05},{"s":"historical","y":1974,"v":0.06},{"s":"historical","y":1977,"v":0.07},{"s":"historical","y":1980,"v":0.02},{"s":"historical","y":1983,"v":-0.02},{"s":"historical","y":1986,"v":-0.05},{"s":"historical","y":1989,"v":0.02},{"s":"historical","y":1992,"v":0.03},{"s":"historical","y":1995,"v":0.04},{"s":"historical","y":1998,"v":0.10},{"s":"historical","y":2001,"v":0.04},{"s":"historical","y":2004,"v":0.07},{"s":"historical","y":2007,"v":0.06},{"s":"historical","y":2010,"v":0.10},{"s":"historical","y":2013,"v":0.09},{"s":"historical","y":2014,"v":0.08},
{"s":"SSP1-2.6","y":2015,"v":0.09},{"s":"SSP1-2.6","y":2018,"v":0.08},{"s":"SSP1-2.6","y":2021,"v":0.12},{"s":"SSP1-2.6","y":2024,"v":0.13},{"s":"SSP1-2.6","y":2027,"v":0.07},{"s":"SSP1-2.6","y":2030,"v":0.14},{"s":"SSP1-2.6","y":2033,"v":0.13},{"s":"SSP1-2.6","y":2036,"v":0.15},{"s":"SSP1-2.6","y":2039,"v":0.17},{"s":"SSP1-2.6","y":2042,"v":0.18},{"s":"SSP1-2.6","y":2045,"v":0.24},{"s":"SSP1-2.6","y":2048,"v":0.22},{"s":"SSP1-2.6","y":2051,"v":0.18},{"s":"SSP1-2.6","y":2054,"v":0.20},{"s":"SSP1-2.6","y":2057,"v":0.22},{"s":"SSP1-2.6","y":2060,"v":0.21},{"s":"SSP1-2.6","y":2063,"v":0.24},{"s":"SSP1-2.6","y":2066,"v":0.22},{"s":"SSP1-2.6","y":2069,"v":0.25},{"s":"SSP1-2.6","y":2072,"v":0.24},{"s":"SSP1-2.6","y":2075,"v":0.22},{"s":"SSP1-2.6","y":2078,"v":0.20},{"s":"SSP1-2.6","y":2081,"v":0.24},{"s":"SSP1-2.6","y":2084,"v":0.27},{"s":"SSP1-2.6","y":2087,"v":0.22},{"s":"SSP1-2.6","y":2090,"v":0.24},{"s":"SSP1-2.6","y":2093,"v":0.26},{"s":"SSP1-2.6","y":2096,"v":0.22},{"s":"SSP1-2.6","y":2099,"v":0.20},{"s":"SSP1-2.6","y":2100,"v":0.21},
{"s":"SSP2-4.5","y":2015,"v":0.09},{"s":"SSP2-4.5","y":2018,"v":0.08},{"s":"SSP2-4.5","y":2021,"v":0.11},{"s":"SSP2-4.5","y":2024,"v":0.14},{"s":"SSP2-4.5","y":2027,"v":0.12},{"s":"SSP2-4.5","y":2030,"v":0.20},{"s":"SSP2-4.5","y":2033,"v":0.16},{"s":"SSP2-4.5","y":2036,"v":0.18},{"s":"SSP2-4.5","y":2039,"v":0.15},{"s":"SSP2-4.5","y":2042,"v":0.22},{"s":"SSP2-4.5","y":2045,"v":0.20},{"s":"SSP2-4.5","y":2048,"v":0.17},{"s":"SSP2-4.5","y":2051,"v":0.15},{"s":"SSP2-4.5","y":2054,"v":0.22},{"s":"SSP2-4.5","y":2057,"v":0.23},{"s":"SSP2-4.5","y":2060,"v":0.28},{"s":"SSP2-4.5","y":2063,"v":0.30},{"s":"SSP2-4.5","y":2066,"v":0.26},{"s":"SSP2-4.5","y":2069,"v":0.30},{"s":"SSP2-4.5","y":2072,"v":0.29},{"s":"SSP2-4.5","y":2075,"v":0.33},{"s":"SSP2-4.5","y":2078,"v":0.30},{"s":"SSP2-4.5","y":2081,"v":0.32},{"s":"SSP2-4.5","y":2084,"v":0.42},{"s":"SSP2-4.5","y":2087,"v":0.35},{"s":"SSP2-4.5","y":2090,"v":0.28},{"s":"SSP2-4.5","y":2093,"v":0.33},{"s":"SSP2-4.5","y":2096,"v":0.35},{"s":"SSP2-4.5","y":2099,"v":0.36},{"s":"SSP2-4.5","y":2100,"v":0.37},
{"s":"SSP5-8.5","y":2015,"v":0.09},{"s":"SSP5-8.5","y":2018,"v":0.10},{"s":"SSP5-8.5","y":2021,"v":0.12},{"s":"SSP5-8.5","y":2024,"v":0.11},{"s":"SSP5-8.5","y":2027,"v":0.15},{"s":"SSP5-8.5","y":2030,"v":0.16},{"s":"SSP5-8.5","y":2033,"v":0.14},{"s":"SSP5-8.5","y":2036,"v":0.15},{"s":"SSP5-8.5","y":2039,"v":0.18},{"s":"SSP5-8.5","y":2042,"v":0.16},{"s":"SSP5-8.5","y":2045,"v":0.20},{"s":"SSP5-8.5","y":2048,"v":0.22},{"s":"SSP5-8.5","y":2051,"v":0.20},{"s":"SSP5-8.5","y":2054,"v":0.24},{"s":"SSP5-8.5","y":2057,"v":0.26},{"s":"SSP5-8.5","y":2060,"v":0.30},{"s":"SSP5-8.5","y":2063,"v":0.33},{"s":"SSP5-8.5","y":2066,"v":0.38},{"s":"SSP5-8.5","y":2069,"v":0.37},{"s":"SSP5-8.5","y":2072,"v":0.40},{"s":"SSP5-8.5","y":2075,"v":0.42},{"s":"SSP5-8.5","y":2078,"v":0.48},{"s":"SSP5-8.5","y":2081,"v":0.52},{"s":"SSP5-8.5","y":2084,"v":0.57},{"s":"SSP5-8.5","y":2087,"v":0.62},{"s":"SSP5-8.5","y":2090,"v":0.60},{"s":"SSP5-8.5","y":2093,"v":0.68},{"s":"SSP5-8.5","y":2096,"v":0.72},{"s":"SSP5-8.5","y":2099,"v":0.82},{"s":"SSP5-8.5","y":2100,"v":0.92}
],
"Peninsula_b":[
{"s":"historical","y":1950,"l":-0.20,"u":0.35},{"s":"historical","y":1955,"l":-0.25,"u":0.25},{"s":"historical","y":1960,"l":-0.18,"u":0.28},{"s":"historical","y":1965,"l":-0.18,"u":0.22},{"s":"historical","y":1970,"l":-0.15,"u":0.23},{"s":"historical","y":1975,"l":-0.12,"u":0.24},{"s":"historical","y":1980,"l":-0.15,"u":0.20},{"s":"historical","y":1985,"l":-0.23,"u":0.20},{"s":"historical","y":1990,"l":-0.12,"u":0.22},{"s":"historical","y":1995,"l":-0.10,"u":0.22},{"s":"historical","y":2000,"l":-0.10,"u":0.24},{"s":"historical","y":2005,"l":-0.08,"u":0.22},{"s":"historical","y":2010,"l":-0.05,"u":0.20},{"s":"historical","y":2014,"l":-0.02,"u":0.22},
{"s":"SSP1-2.6","y":2015,"l":-0.05,"u":0.25},{"s":"SSP1-2.6","y":2020,"l":-0.08,"u":0.30},{"s":"SSP1-2.6","y":2025,"l":-0.05,"u":0.32},{"s":"SSP1-2.6","y":2030,"l":-0.03,"u":0.35},{"s":"SSP1-2.6","y":2035,"l":-0.05,"u":0.40},{"s":"SSP1-2.6","y":2040,"l":-0.03,"u":0.45},{"s":"SSP1-2.6","y":2045,"l":-0.04,"u":0.50},{"s":"SSP1-2.6","y":2050,"l":-0.05,"u":0.45},{"s":"SSP1-2.6","y":2055,"l":-0.03,"u":0.42},{"s":"SSP1-2.6","y":2060,"l":-0.02,"u":0.45},{"s":"SSP1-2.6","y":2065,"l":-0.03,"u":0.48},{"s":"SSP1-2.6","y":2070,"l":-0.05,"u":0.45},{"s":"SSP1-2.6","y":2075,"l":-0.06,"u":0.45},{"s":"SSP1-2.6","y":2080,"l":-0.08,"u":0.48},{"s":"SSP1-2.6","y":2085,"l":-0.08,"u":0.50},{"s":"SSP1-2.6","y":2090,"l":-0.10,"u":0.50},{"s":"SSP1-2.6","y":2095,"l":-0.10,"u":0.48},{"s":"SSP1-2.6","y":2100,"l":-0.08,"u":0.50},
{"s":"SSP2-4.5","y":2015,"l":-0.03,"u":0.25},{"s":"SSP2-4.5","y":2020,"l":-0.06,"u":0.30},{"s":"SSP2-4.5","y":2025,"l":-0.05,"u":0.35},{"s":"SSP2-4.5","y":2030,"l":-0.02,"u":0.40},{"s":"SSP2-4.5","y":2035,"l":-0.03,"u":0.42},{"s":"SSP2-4.5","y":2040,"l":-0.03,"u":0.45},{"s":"SSP2-4.5","y":2045,"l":-0.05,"u":0.48},{"s":"SSP2-4.5","y":2050,"l":-0.05,"u":0.50},{"s":"SSP2-4.5","y":2055,"l":0.0,"u":0.55},{"s":"SSP2-4.5","y":2060,"l":0.02,"u":0.60},{"s":"SSP2-4.5","y":2065,"l":0.02,"u":0.65},{"s":"SSP2-4.5","y":2070,"l":0.03,"u":0.68},{"s":"SSP2-4.5","y":2075,"l":0.05,"u":0.70},{"s":"SSP2-4.5","y":2080,"l":0.05,"u":0.75},{"s":"SSP2-4.5","y":2085,"l":0.08,"u":0.80},{"s":"SSP2-4.5","y":2090,"l":0.05,"u":0.78},{"s":"SSP2-4.5","y":2095,"l":0.08,"u":0.72},{"s":"SSP2-4.5","y":2100,"l":0.10,"u":0.75},
{"s":"SSP5-8.5","y":2015,"l":-0.03,"u":0.25},{"s":"SSP5-8.5","y":2020,"l":-0.05,"u":0.32},{"s":"SSP5-8.5","y":2025,"l":-0.03,"u":0.38},{"s":"SSP5-8.5","y":2030,"l":-0.02,"u":0.42},{"s":"SSP5-8.5","y":2035,"l":0.0,"u":0.45},{"s":"SSP5-8.5","y":2040,"l":0.0,"u":0.48},{"s":"SSP5-8.5","y":2045,"l":0.02,"u":0.52},{"s":"SSP5-8.5","y":2050,"l":0.02,"u":0.58},{"s":"SSP5-8.5","y":2055,"l":0.05,"u":0.62},{"s":"SSP5-8.5","y":2060,"l":0.05,"u":0.70},{"s":"SSP5-8.5","y":2065,"l":0.08,"u":0.78},{"s":"SSP5-8.5","y":2070,"l":0.10,"u":0.85},{"s":"SSP5-8.5","y":2075,"l":0.12,"u":0.92},{"s":"SSP5-8.5","y":2080,"l":0.15,"u":1.00},{"s":"SSP5-8.5","y":2085,"l":0.18,"u":1.10},{"s":"SSP5-8.5","y":2090,"l":0.20,"u":1.20},{"s":"SSP5-8.5","y":2095,"l":0.25,"u":1.35},{"s":"SSP5-8.5","y":2100,"l":0.30,"u":1.50}
]
},
"columns":3,
"spacing":{"row":54,"column":86},
"bounds":"flush",
"resolve":{"scale":{"color":"shared","fill":"shared"},"legend":{"color":"independent"}},
"concat":[
{"title":{"text":"EAIS","font":"DejaVu Sans","fontSize":14.5,"fontWeight":"normal","color":"black"},"width":216,"height":208,
 "encoding":{"x":{"field":"y","type":"quantitative","scale":{"domain":[1950,2100],"nice":false},"axis":{"values":[1950,2000,2050,2100],"format":"d","title":null,"labelFont":"DejaVu Sans","labelFontSize":13,"labelColor":"black","labelPadding":3,"tickSize":4,"tickColor":"black","domainColor":"black"}}},
 "layer":[
  {"data":{"name":"EAIS_b"},"mark":{"type":"area","fillOpacity":0.1,"clip":true},"encoding":{"y":{"field":"l","type":"quantitative","scale":{"domain":[-0.5,2],"nice":false},"axis":{"values":[-0.5,0,0.5,1,1.5,2],"format":".1f","title":"Thermal forcing anomaly (K)","labelFont":"DejaVu Sans","labelFontSize":13,"labelColor":"black","labelPadding":4,"tickSize":4,"tickColor":"black","domainColor":"black","titleFont":"DejaVu Sans","titleFontSize":13,"titleFontWeight":"normal","titleColor":"black","titlePadding":6}},"y2":{"field":"u"},"fill":{"field":"s","type":"nominal","scale":{"domain":["historical","SSP1-2.6","SSP2-4.5","SSP5-8.5"],"range":["green","blue","orange","red"]},"legend":null}}},
  {"data":{"name":"EAIS_l"},"mark":{"type":"line","strokeWidth":1.6,"clip":true},"encoding":{"y":{"field":"v","type":"quantitative","scale":{"domain":[-0.5,2],"nice":false},"axis":{"values":[-0.5,0,0.5,1,1.5,2],"format":".1f","title":"Thermal forcing anomaly (K)","labelFont":"DejaVu Sans","labelFontSize":13,"labelColor":"black","labelPadding":4,"tickSize":4,"tickColor":"black","domainColor":"black","titleFont":"DejaVu Sans","titleFontSize":13,"titleFontWeight":"normal","titleColor":"black","titlePadding":6}},"color":{"field":"s","type":"nominal","scale":{"domain":["historical","SSP1-2.6","SSP2-4.5","SSP5-8.5"],"range":["green","blue","orange","red"]},"legend":null}}}
 ]},
{"title":{"text":"Weddell","font":"DejaVu Sans","fontSize":14.5,"fontWeight":"normal","color":"black"},"width":216,"height":208,
 "encoding":{"x":{"field":"y","type":"quantitative","scale":{"domain":[1950,2100],"nice":false},"axis":{"values":[1950,2000,2050,2100],"format":"d","title":null,"labelFont":"DejaVu Sans","labelFontSize":13,"labelColor":"black","labelPadding":3,"tickSize":4,"tickColor":"black","domainColor":"black"}}},
 "layer":[
  {"data":{"name":"Weddell_b"},"mark":{"type":"area","fillOpacity":0.1,"clip":true},"encoding":{"y":{"field":"l","type":"quantitative","scale":{"domain":[-0.5,2],"nice":false},"axis":{"values":[-0.5,0,0.5,1,1.5,2],"format":".1f","title":"Thermal forcing anomaly (K)","labelFont":"DejaVu Sans","labelFontSize":13,"labelColor":"black","labelPadding":4,"tickSize":4,"tickColor":"black","domainColor":"black","titleFont":"DejaVu Sans","titleFontSize":13,"titleFontWeight":"normal","titleColor":"black","titlePadding":6}},"y2":{"field":"u"},"fill":{"field":"s","type":"nominal","scale":{"domain":["historical","SSP1-2.6","SSP2-4.5","SSP5-8.5"],"range":["green","blue","orange","red"]},"legend":null}}},
  {"data":{"name":"Weddell_l"},"mark":{"type":"line","strokeWidth":1.6,"clip":true},"encoding":{"y":{"field":"v","type":"quantitative","scale":{"domain":[-0.5,2],"nice":false},"axis":{"values":[-0.5,0,0.5,1,1.5,2],"format":".1f","title":"Thermal forcing anomaly (K)","labelFont":"DejaVu Sans","labelFontSize":13,"labelColor":"black","labelPadding":4,"tickSize":4,"tickColor":"black","domainColor":"black","titleFont":"DejaVu Sans","titleFontSize":13,"titleFontWeight":"normal","titleColor":"black","titlePadding":6}},"color":{"field":"s","type":"nominal","scale":{"domain":["historical","SSP1-2.6","SSP2-4.5","SSP5-8.5"],"range":["green","blue","orange","red"]},"legend":null}}}
 ]},
{"title":{"text":"Amundsen","font":"DejaVu Sans","fontSize":14.5,"fontWeight":"normal","color":"black"},"width":216,"height":208,
 "encoding":{"x":{"field":"y","type":"quantitative","scale":{"domain":[1950,2100],"nice":false},"axis":{"values":[1950,2000,2050,2100],"format":"d","title":null,"labelFont":"DejaVu Sans","labelFontSize":13,"labelColor":"black","labelPadding":3,"tickSize":4,"tickColor":"black","domainColor":"black"}}},
 "layer":[
  {"data":{"name":"Amundsen_b"},"mark":{"type":"area","fillOpacity":0.1,"clip":true},"encoding":{"y":{"field":"l","type":"quantitative","scale":{"domain":[-0.5,2],"nice":false},"axis":{"values":[-0.5,0,0.5,1,1.5,2],"format":".1f","title":"Thermal forcing anomaly (K)","labelFont":"DejaVu Sans","labelFontSize":13,"labelColor":"black","labelPadding":4,"tickSize":4,"tickColor":"black","domainColor":"black","titleFont":"DejaVu Sans","titleFontSize":13,"titleFontWeight":"normal","titleColor":"black","titlePadding":6}},"y2":{"field":"u"},"fill":{"field":"s","type":"nominal","scale":{"domain":["historical","SSP1-2.6","SSP2-4.5","SSP5-8.5"],"range":["green","blue","orange","red"]},"legend":null}}},
  {"data":{"name":"Amundsen_l"},"mark":{"type":"line","strokeWidth":1.6,"clip":true},"encoding":{"y":{"field":"v","type":"quantitative","scale":{"domain":[-0.5,2],"nice":false},"axis":{"values":[-0.5,0,0.5,1,1.5,2],"format":".1f","title":"Thermal forcing anomaly (K)","labelFont":"DejaVu Sans","labelFontSize":13,"labelColor":"black","labelPadding":4,"tickSize":4,"tickColor":"black","domainColor":"black","titleFont":"DejaVu Sans","titleFontSize":13,"titleFontWeight":"normal","titleColor":"black","titlePadding":6}},"color":{"field":"s","type":"nominal","scale":{"domain":["historical","SSP1-2.6","SSP2-4.5","SSP5-8.5"],"range":["green","blue","orange","red"]},"legend":null}}}
 ]},
{"title":{"text":"Ross","font":"DejaVu Sans","fontSize":14.5,"fontWeight":"normal","color":"black"},"width":216,"height":208,
 "encoding":{"x":{"field":"y","type":"quantitative","scale":{"domain":[1950,2100],"nice":false},"axis":{"values":[1950,2000,2050,2100],"format":"d","title":null,"labelFont":"DejaVu Sans","labelFontSize":13,"labelColor":"black","labelPadding":3,"tickSize":4,"tickColor":"black","domainColor":"black"}}},
 "layer":[
  {"data":{"name":"Ross_b"},"mark":{"type":"area","fillOpacity":0.1,"clip":true},"encoding":{"y":{"field":"l","type":"quantitative","scale":{"domain":[-0.5,2],"nice":false},"axis":{"values":[-0.5,0,0.5,1,1.5,2],"format":".1f","title":"Thermal forcing anomaly (K)","labelFont":"DejaVu Sans","labelFontSize":13,"labelColor":"black","labelPadding":4,"tickSize":4,"tickColor":"black","domainColor":"black","titleFont":"DejaVu Sans","titleFontSize":13,"titleFontWeight":"normal","titleColor":"black","titlePadding":6}},"y2":{"field":"u"},"fill":{"field":"s","type":"nominal","scale":{"domain":["historical","SSP1-2.6","SSP2-4.5","SSP5-8.5"],"range":["green","blue","orange","red"]},"legend":null}}},
  {"data":{"name":"Ross_l"},"mark":{"type":"line","strokeWidth":1.6,"clip":true},"encoding":{"y":{"field":"v","type":"quantitative","scale":{"domain":[-0.5,2],"nice":false},"axis":{"values":[-0.5,0,0.5,1,1.5,2],"format":".1f","title":"Thermal forcing anomaly (K)","labelFont":"DejaVu Sans","labelFontSize":13,"labelColor":"black","labelPadding":4,"tickSize":4,"tickColor":"black","domainColor":"black","titleFont":"DejaVu Sans","titleFontSize":13,"titleFontWeight":"normal","titleColor":"black","titlePadding":6}},"color":{"field":"s","type":"nominal","scale":{"domain":["historical","SSP1-2.6","SSP2-4.5","SSP5-8.5"],"range":["green","blue","orange","red"]},"legend":null}}}
 ]},
{"title":{"text":"Peninsula","font":"DejaVu Sans","fontSize":14.5,"fontWeight":"normal","color":"black"},"width":216,"height":208,
 "encoding":{"x":{"field":"y","type":"quantitative","scale":{"domain":[1950,2100],"nice":false},"axis":{"values":[1950,2000,2050,2100],"format":"d","title":null,"labelFont":"DejaVu Sans","labelFontSize":13,"labelColor":"black","labelPadding":3,"tickSize":4,"tickColor":"black","domainColor":"black"}}},
 "layer":[
  {"data":{"name":"Peninsula_b"},"mark":{"type":"area","fillOpacity":0.1,"clip":true},"encoding":{"y":{"field":"l","type":"quantitative","scale":{"domain":[-0.5,2],"nice":false},"axis":{"values":[-0.5,0,0.5,1,1.5,2],"format":".1f","title":"Thermal forcing anomaly (K)","labelFont":"DejaVu Sans","labelFontSize":13,"labelColor":"black","labelPadding":4,"tickSize":4,"tickColor":"black","domainColor":"black","titleFont":"DejaVu Sans","titleFontSize":13,"titleFontWeight":"normal","titleColor":"black","titlePadding":6}},"y2":{"field":"u"},"fill":{"field":"s","type":"nominal","scale":{"domain":["historical","SSP1-2.6","SSP2-4.5","SSP5-8.5"],"range":["green","blue","orange","red"]},"legend":null}}},
  {"data":{"name":"Peninsula_l"},"mark":{"type":"line","strokeWidth":1.6,"clip":true},"encoding":{"y":{"field":"v","type":"quantitative","scale":{"domain":[-0.5,2],"nice":false},"axis":{"values":[-0.5,0,0.5,1,1.5,2],"format":".1f","title":"Thermal forcing anomaly (K)","labelFont":"DejaVu Sans","labelFontSize":13,"labelColor":"black","labelPadding":4,"tickSize":4,"tickColor":"black","domainColor":"black","titleFont":"DejaVu Sans","titleFontSize":13,"titleFontWeight":"normal","titleColor":"black","titlePadding":6}},"color":{"field":"s","type":"nominal","scale":{"domain":["historical","SSP1-2.6","SSP2-4.5","SSP5-8.5"],"range":["green","blue","orange","red"]},"legend":{"title":null,"orient":"none","legendX":286,"legendY":4,"labelFont":"DejaVu Sans","labelFontSize":13.5,"labelColor":"black","rowPadding":2,"padding":5,"labelOffset":10}}}}
 ]}
]
}
